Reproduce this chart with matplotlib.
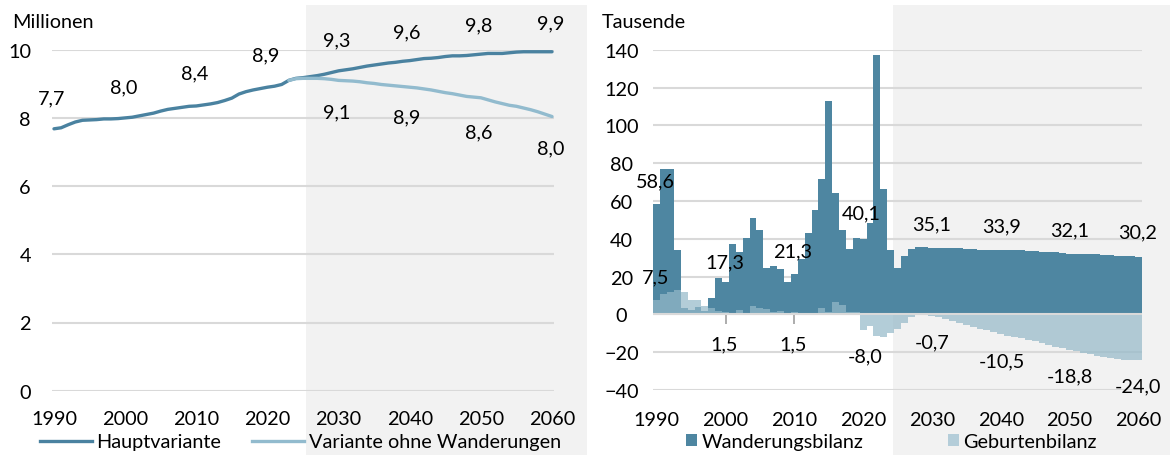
import matplotlib
matplotlib.use("Agg")
import matplotlib.pyplot as plt
from matplotlib.patches import Rectangle, Patch
from matplotlib.lines import Line2D

plt.rcParams['font.family'] = ['Lato', 'DejaVu Sans']
FS = 14.3

# ---------------- data ----------------
years = list(range(1990, 2061))

haupt = [7.68, 7.71, 7.80, 7.88, 7.93, 7.94, 7.95, 7.97, 7.97, 7.98,
         8.00, 8.02, 8.06, 8.10, 8.14, 8.20, 8.25, 8.28, 8.31, 8.34,
         8.35, 8.38, 8.41, 8.45, 8.51, 8.58, 8.70, 8.77, 8.82, 8.86,
         8.90, 8.93, 8.98, 9.10, 9.16, 9.18, 9.21, 9.24, 9.28, 9.33,
         9.38, 9.41, 9.44, 9.48, 9.52, 9.55, 9.58, 9.61, 9.63, 9.66,
         9.68, 9.71, 9.74, 9.75, 9.77, 9.80, 9.82, 9.82, 9.83, 9.85,
         9.87, 9.89, 9.89, 9.89, 9.91, 9.93, 9.94, 9.94, 9.94, 9.94,
         9.94]

years_ohne = list(range(2023, 2061))
ohne = [9.10, 9.15, 9.16, 9.16, 9.16, 9.15, 9.13, 9.10, 9.09, 9.08,
        9.06, 9.03, 9.01, 8.98, 8.96, 8.94, 8.92, 8.90, 8.88, 8.85,
        8.82, 8.78, 8.74, 8.71, 8.67, 8.63, 8.61, 8.59, 8.53, 8.47,
        8.42, 8.37, 8.34, 8.29, 8.24, 8.18, 8.11, 8.04]

wanderung = [58.6, 77.1, 76.8, 33.9, 3.2, 2.5, 3.9, 1.8, 8.8, 19.2,
             17.3, 37.0, 33.2, 40.2, 50.8, 44.4, 24.5, 25.4, 24.2, 17.1,
             21.3, 29.1, 43.2, 55.0, 71.8, 112.9, 64.4, 44.4, 34.7, 40.2,
             40.1, 48.5, 137.2, 66.5, 34.0, 24.5, 30.9, 34.8, 35.7, 35.6,
             35.1, 35.0, 35.0, 35.0, 34.9, 34.8, 34.4, 34.0, 34.0, 33.9,
             33.9, 33.9, 33.8, 33.8, 33.7, 33.3, 33.2, 33.2, 33.1, 32.3,
             32.1, 32.1, 32.1, 32.0, 32.0, 31.3, 31.2, 31.1, 31.0, 30.9,
             30.2]

geburten = [7.5, 10.6, 11.8, 12.9, 11.8, 7.6, 7.6, 4.4, 3.5, 2.0,
            1.5, 0.8, 2.1, 0.2, 4.4, 3.2, 3.0, 1.5, 2.0, -0.3,
            1.5, 0.8, 0.5, 0.3, 3.5, 1.4, 6.5, 4.9, 1.5, 1.0,
            -8.0, -6.2, -11.5, -12.0, -9.7, -7.6, -4.8, -1.5, 0.3, 0.2,
            -0.7, -1.6, -2.6, -3.6, -4.6, -5.6, -6.6, -7.5, -8.5, -9.5,
            -10.5, -11.3, -12.0, -12.7, -13.4, -14.3, -15.2, -16.1, -17.0, -17.9,
            -18.8, -19.6, -20.4, -21.2, -22.0, -22.7, -23.3, -23.8, -24.1, -24.2,
            -24.0]

# data labels (text, year, y-position)
left_labels = [("7,7", 1989.7, 8.58), ("8,0", 1999.8, 8.92), ("8,4", 2009.8, 9.32),
               ("8,9", 2019.8, 9.84), ("9,3", 2029.8, 10.28), ("9,6", 2039.6, 10.53),
               ("9,8", 2049.7, 10.72), ("9,9", 2059.8, 10.78),
               ("9,1", 2029.8, 8.19), ("8,9", 2039.6, 8.03), ("8,6", 2049.7, 7.60),
               ("8,0", 2059.8, 7.12)]
right_labels = [("58,6", 1989.8, 70.8), ("7,5", 1989.8, 19.8), ("17,3", 1999.85, 28.0),
                ("1,5", 1999.85, -15.7), ("21,3", 2009.8, 33.8), ("1,5", 2009.8, -15.7),
                ("40,1", 2019.8, 53.6), ("-8,0", 2020.3, -22.0), ("35,1", 2030.0, 47.8),
                ("-0,7", 2030.1, -14.6), ("33,9", 2040.1, 47.0), ("-10,5", 2040.2, -24.6),
                ("32,1", 2050.0, 44.6), ("-18,8", 2050.1, -32.3), ("30,2", 2059.9, 43.6),
                ("-24,0", 2060.0, -37.6)]

DARK_LINE = "#4a82a0"
LIGHT_LINE = "#92bbce"
DARK_BAR = "#4e86a1"
LIGHT_BAR = "#95b9c9"
GRID = "#d9d9d9"
SHADE = "#f2f2f2"

W, H = 1170, 456
fig = plt.figure(figsize=(W / 100, H / 100), dpi=100)

# shaded projection regions (figure level, behind axes)
fig.patches.append(Rectangle((306 / W, 0), (587 - 306) / W, 450 / H,
                             transform=fig.transFigure, facecolor=SHADE,
                             edgecolor='none', zorder=-10))
fig.patches.append(Rectangle((892.7 / W, 0), (W - 892.7) / W, 450 / H,
                             transform=fig.transFigure, facecolor=SHADE,
                             edgecolor='none', zorder=-10))

# ---------------- left chart ----------------
ax1 = fig.add_axes([51.7 / W, 64.3 / H, 502.6 / W, 341 / H])
ax1.set_facecolor('none')
ax1.plot(years, haupt, color=DARK_LINE, lw=2.4, solid_capstyle='round', zorder=3)
ax1.plot(years_ohne, ohne, color=LIGHT_LINE, lw=2.4, solid_capstyle='round', zorder=4)
ax1.set_xlim(1989.68, 2060.32)
ax1.set_ylim(0, 10)
ax1.set_yticks(range(0, 11, 2))
ax1.set_xticks(range(1990, 2061, 10))
ax1.grid(axis='y', color=GRID, lw=1.5)
ax1.set_axisbelow(True)
for s in ax1.spines.values():
    s.set_visible(False)
ax1.tick_params(axis='both', length=0, labelsize=FS)
ax1.tick_params(axis='y', pad=15)
ax1.tick_params(axis='x', pad=14)
for t, x, y in left_labels:
    ax1.text(x, y, t, ha='center', va='center', fontsize=FS, clip_on=False)

fig.text(12 / W, 1 - 23 / H, "Millionen", ha='left', va='center', fontsize=FS)

h1 = [Line2D([], [], color=DARK_LINE, lw=2.4), Line2D([], [], color=LIGHT_LINE, lw=2.4)]
fig.legend(h1, ["Hauptvariante", "Variante ohne Wanderungen"], loc='center left',
           bbox_to_anchor=(40 / W, 1 - 443 / H), ncol=2, frameon=False, fontsize=FS,
           handlelength=2.6, handletextpad=0.25, columnspacing=1.55,
           borderpad=0, borderaxespad=0)

# ---------------- right chart ----------------
ax2 = fig.add_axes([653.3 / W, 65 / H, 488.4 / W, 340.3 / H])
ax2.set_facecolor('none')
ax2.bar(years, wanderung, width=1.0, color=DARK_BAR, zorder=2, linewidth=0)
ax2.bar(years, geburten, width=1.0, color=LIGHT_BAR, alpha=0.71, zorder=2.1, linewidth=0)
ax2.axhline(0, color=GRID, lw=1.5, zorder=3)
ax2.set_xlim(1989.5, 2060.5)
ax2.set_ylim(-40, 140)
ax2.set_yticks(range(-40, 141, 20))
ax2.set_xticks(range(1990, 2061, 10))
ax2.grid(axis='y', color=GRID, lw=1.5)
ax2.set_axisbelow(True)
for s in ax2.spines.values():
    s.set_visible(False)
ax2.tick_params(axis='both', length=0, labelsize=FS)
ax2.tick_params(axis='y', pad=23)
ax2.tick_params(axis='x', pad=15)
for lbl in ax2.get_yticklabels():
    lbl.set_ha('center')
sec = ax2.secondary_xaxis(40 / 180)
sec.set_xticks([2000, 2010])
sec.set_xticklabels([])
sec.tick_params(length=7, width=1.3, color='#a6a6a6', direction='out')
sec.spines['bottom'].set_visible(False)
for t, x, y in right_labels:
    ax2.text(x, y, t, ha='center', va='center', fontsize=FS, clip_on=False, zorder=5)

fig.text(602 / W, 1 - 22.5 / H, "Tausende", ha='left', va='center', fontsize=FS)

h2 = [Patch(facecolor=DARK_BAR, edgecolor='none'),
      Patch(facecolor="#b4cdd9", edgecolor='none')]
fig.legend(h2, ["Wanderungsbilanz", "Geburtenbilanz"], loc='center left',
           bbox_to_anchor=(686 / W, 1 - 443 / H), ncol=2, frameon=False, fontsize=FS,
           handlelength=0.55, handleheight=0.55, handletextpad=0.22, columnspacing=4.27,
           borderpad=0, borderaxespad=0)

fig.savefig("out.png", dpi=100)
